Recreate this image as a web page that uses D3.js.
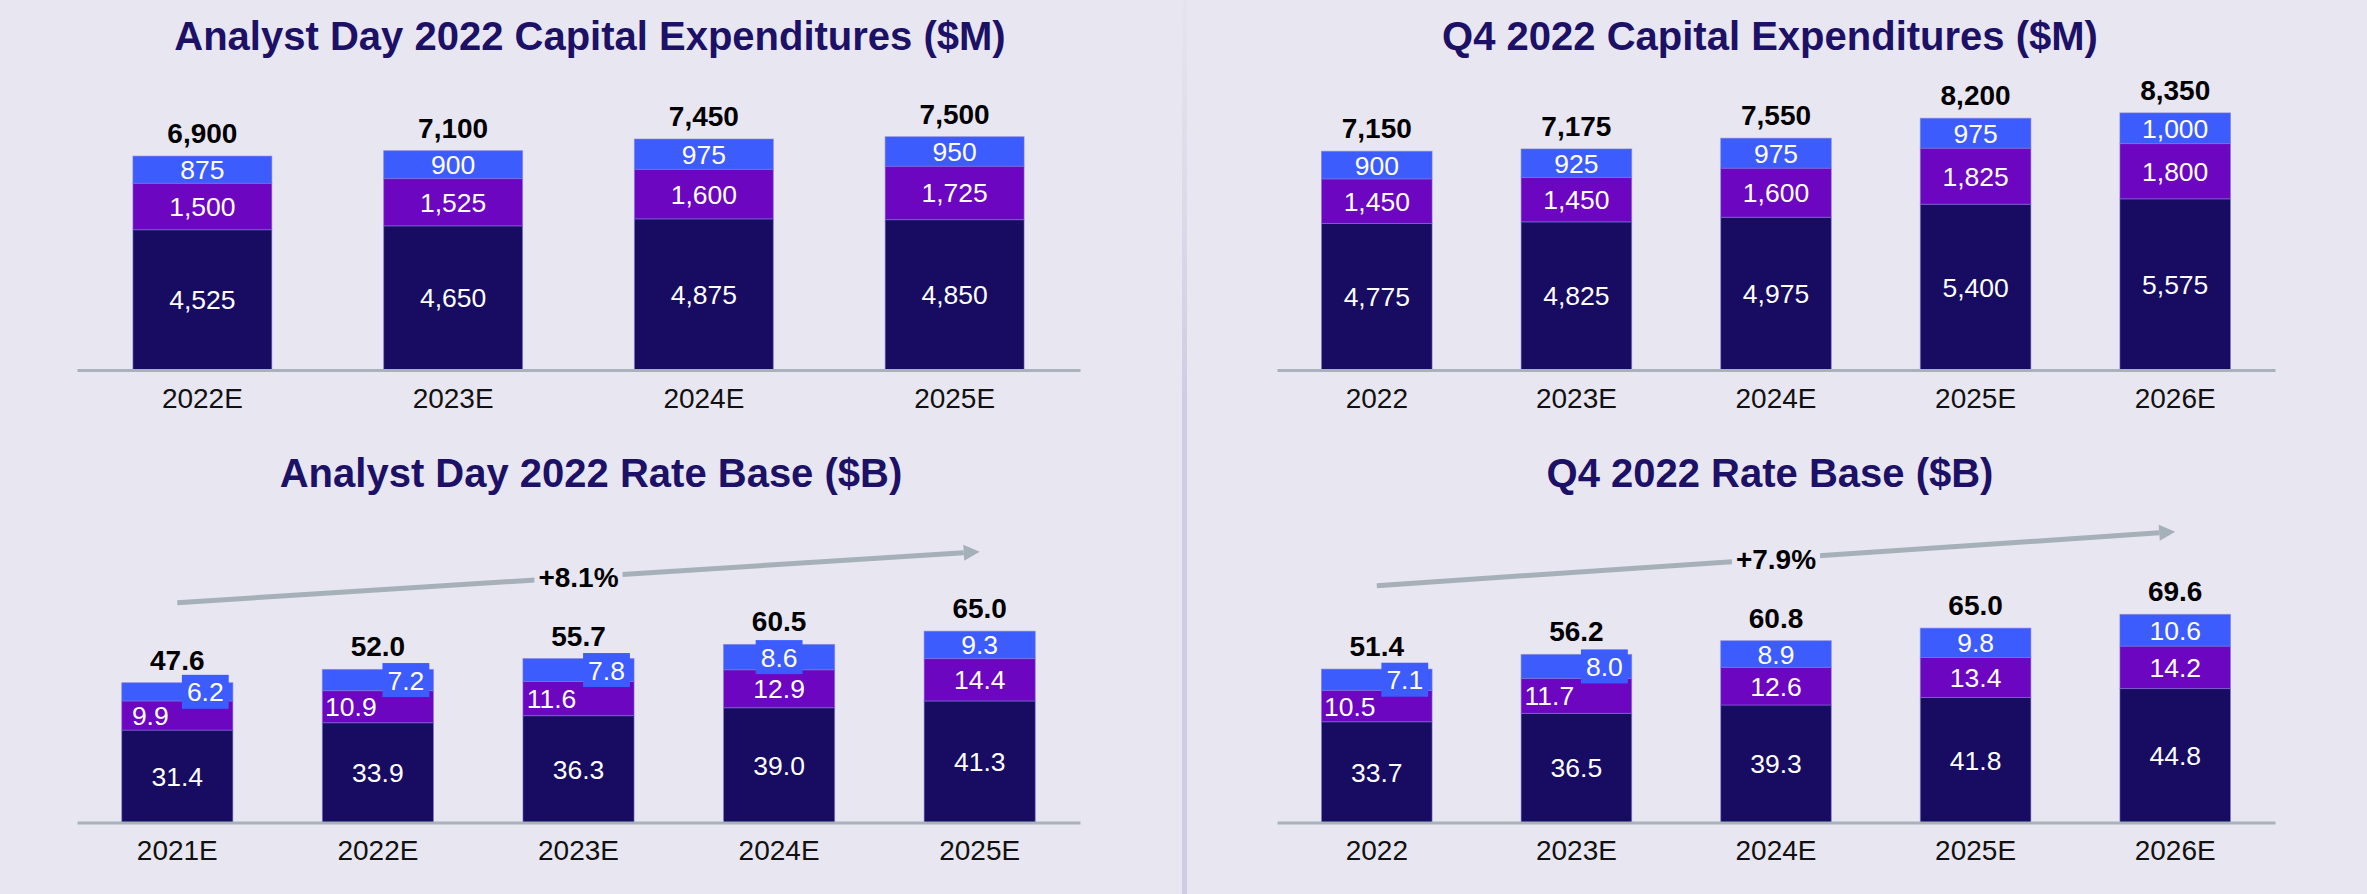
<!DOCTYPE html>
<html><head><meta charset="utf-8">
<script src="https://cdn.jsdelivr.net/npm/d3@7"></script>
<style>
html,body{margin:0;padding:0;background:#e8e6f0;}
svg{display:block;}
text{font-family:"Liberation Sans",Arial,sans-serif;}
</style></head><body>
<svg id="chart" width="2367" height="894"></svg>
<script>
// ---------- DATA ----------
const capexADTitle = "Analyst Day 2022 Capital Expenditures ($M)";
const capexADCats = ["2022E", "2023E", "2024E", "2025E"];
const capexADNavy = [4525, 4650, 4875, 4850];
const capexADPurple = [1500, 1525, 1600, 1725];
const capexADBlue = [875, 900, 975, 950];
const capexADTotal = [6900, 7100, 7450, 7500];

const capexQ4Title = "Q4 2022 Capital Expenditures ($M)";
const capexQ4Cats = ["2022", "2023E", "2024E", "2025E", "2026E"];
const capexQ4Navy = [4775, 4825, 4975, 5400, 5575];
const capexQ4Purple = [1450, 1450, 1600, 1825, 1800];
const capexQ4Blue = [900, 925, 975, 975, 1000];
const capexQ4Total = [7150, 7175, 7550, 8200, 8350];

const rbADTitle = "Analyst Day 2022 Rate Base ($B)";
const rbADCats = ["2021E", "2022E", "2023E", "2024E", "2025E"];
const rbADNavy = [31.4, 33.9, 36.3, 39.0, 41.3];
const rbADPurple = [9.9, 10.9, 11.6, 12.9, 14.4];
const rbADBlue = [6.2, 7.2, 7.8, 8.6, 9.3];
const rbADTotal = [47.6, 52.0, 55.7, 60.5, 65.0];
const rbADCagr = "+8.1%";

const rbQ4Title = "Q4 2022 Rate Base ($B)";
const rbQ4Cats = ["2022", "2023E", "2024E", "2025E", "2026E"];
const rbQ4Navy = [33.7, 36.5, 39.3, 41.8, 44.8];
const rbQ4Purple = [10.5, 11.7, 12.6, 13.4, 14.2];
const rbQ4Blue = [7.1, 8.0, 8.9, 9.8, 10.6];
const rbQ4Total = [51.4, 56.2, 60.8, 65.0, 69.6];
const rbQ4Cagr = "+7.9%";

// ---------- STYLE ----------
const BG = "#e8e6f0";
const COLORS = { navy: "#170c62", purple: "#6c06c0", blue: "#3d5cfe" };
const TITLE_COLOR = "#1c1166";
const AXIS_COLOR = "#a8b2ba";
const ARROW_COLOR = "#a6b0b8";
const FONT = '"Liberation Sans", Arial, sans-serif';

const svg = d3.select("#chart");
svg.append("rect").attr("width", 2367).attr("height", 894).attr("fill", BG);

// separator
const defs = svg.append("defs");
const grad = defs.append("linearGradient").attr("id", "sepGrad")
  .attr("x1", 0).attr("y1", 0).attr("x2", 0).attr("y2", 1);
grad.append("stop").attr("offset", "0%").attr("stop-color", "#d6d3e6").attr("stop-opacity", 0.1);
grad.append("stop").attr("offset", "45%").attr("stop-color", "#d0cce2").attr("stop-opacity", 1);
grad.append("stop").attr("offset", "100%").attr("stop-color", "#d0cce2").attr("stop-opacity", 1);
svg.append("rect").attr("x", 1182).attr("y", 0).attr("width", 5).attr("height", 894)
  .attr("fill", "url(#sepGrad)");

function drawPanel(p) {
  const g = svg.append("g");
  const rows = p.cats.map((c, i) => ({ cat: c, navy: p.navy[i], purple: p.purple[i], blue: p.blue[i], total: p.total[i] }));
  const keys = ["navy", "purple", "blue"];
  const series = d3.stack().keys(keys)(rows);
  const x = d3.scaleBand().domain(p.cats).range([p.x0, p.x1]).paddingInner(0.446).paddingOuter(0.223);
  const y = d3.scaleLinear().domain([0, p.yMax]).range([p.axisY, p.yTop]);
  const fmt = d3.format(p.fmt);

  // title
  g.append("text").attr("x", p.titleX).attr("y", p.titleY)
    .attr("text-anchor", "middle").attr("font-size", 40).attr("font-weight", "bold")
    .attr("fill", TITLE_COLOR).style("font-family", FONT).text(p.title);

  // bars
  series.forEach(s => {
    g.append("g").selectAll("rect").data(s).join("rect")
      .attr("x", d => x(d.data.cat))
      .attr("y", d => y(d[1]))
      .attr("width", x.bandwidth())
      .attr("height", d => y(d[0]) - y(d[1]))
      .attr("fill", COLORS[s.key])
      .attr("stroke", "#7f78d8").attr("stroke-opacity", 0.55).attr("stroke-width", 1);
  });

  // axis
  const axis = g.append("g").attr("transform", `translate(0,${p.axisY})`)
    .call(d3.axisBottom(x).tickSize(0).tickSizeOuter(0).tickPadding(18));
  axis.select(".domain").attr("stroke", AXIS_COLOR).attr("stroke-width", 3);
  axis.selectAll("text").attr("font-size", 28).attr("fill", "#111")
    .style("font-family", FONT);

  // segment labels
  rows.forEach((r, i) => {
    const cx = x(r.cat) + x.bandwidth() / 2;
    const sNavy = series[0][i], sPurple = series[1][i], sBlue = series[2][i];
    const blueH = y(sBlue[0]) - y(sBlue[1]);
    let mode = "normal";
    if (blueH < 24.5) mode = "side";
    else if (blueH < 26) mode = "box";

    const lab = (cxp, d, val) => g.append("text")
      .attr("x", cxp).attr("y", (y(d[0]) + y(d[1])) / 2).attr("dy", "0.36em")
      .attr("text-anchor", "middle").attr("font-size", 26.5).attr("fill", "#fff")
      .style("font-family", FONT).text(fmt(val));

    lab(cx, sNavy, r.navy);
    lab(mode === "side" ? cx - 27 : cx, sPurple, r.purple);
    const bx = mode === "side" ? cx + 28 : cx;
    if (mode !== "normal") {
      const boxG = g.append("g");
      const t = lab(bx, sBlue, r.blue);
      const tw = t.node().getComputedTextLength();
      const cy = (y(sBlue[0]) + y(sBlue[1])) / 2;
      boxG.append("rect").attr("x", bx - tw / 2 - 5).attr("y", cy - 17)
        .attr("width", tw + 10).attr("height", 34).attr("fill", COLORS.blue);
      boxG.node().appendChild(t.node());
    } else {
      lab(cx, sBlue, r.blue);
    }
    // total
    g.append("text").attr("x", cx).attr("y", y(sBlue[1]) - 13)
      .attr("text-anchor", "middle").attr("font-size", 28).attr("font-weight", "bold")
      .attr("fill", "#000").style("font-family", FONT).text(fmt(r.total));
  });

  // CAGR arrow
  if (p.cagr) {
    const xa = x(p.cats[0]) + x.bandwidth() / 2;
    const xb = x(p.cats[p.cats.length - 1]) + x.bandwidth() / 2;
    const ya = p.arrowY[0], yb = p.arrowY[1];
    const len = Math.hypot(xb - xa, yb - ya);
    const ux = (xb - xa) / len, uy = (yb - ya) / len;
    const hl = 16, hw = 8;
    const bxp = xb - ux * hl, byp = yb - uy * hl;
    g.append("line").attr("x1", xa).attr("y1", ya).attr("x2", bxp).attr("y2", byp)
      .attr("stroke", ARROW_COLOR).attr("stroke-width", 5);
    g.append("polygon").attr("points", [
      [xb, yb], [bxp - uy * hw, byp + ux * hw], [bxp + uy * hw, byp - ux * hw]
    ].map(q => q.join(",")).join(" ")).attr("fill", ARROW_COLOR);
    const mx = (xa + xb) / 2, my = (ya + yb) / 2;
    const bg = g.append("rect").attr("fill", BG);
    const t = g.append("text").attr("x", mx).attr("y", my).attr("dy", "0.36em")
      .attr("text-anchor", "middle").attr("font-size", 28).attr("font-weight", "bold")
      .attr("fill", "#000").style("font-family", FONT).text(p.cagr);
    const tw = t.node().getComputedTextLength();
    bg.attr("x", mx - tw / 2 - 4).attr("y", my - 14).attr("width", tw + 8).attr("height", 28);
  }
}

drawPanel({ title: capexADTitle, cats: capexADCats, navy: capexADNavy, purple: capexADPurple, blue: capexADBlue, total: capexADTotal,
  fmt: ",", x0: 77, x1: 1080, axisY: 370, yMax: 8000, yTop: 370 - 8000 * 0.0310, titleX: 590, titleY: 50 });
drawPanel({ title: capexQ4Title, cats: capexQ4Cats, navy: capexQ4Navy, purple: capexQ4Purple, blue: capexQ4Blue, total: capexQ4Total,
  fmt: ",", x0: 1277, x1: 2275, axisY: 370, yMax: 9000, yTop: 370 - 9000 * 0.0307, titleX: 1770, titleY: 50 });
drawPanel({ title: rbADTitle, cats: rbADCats, navy: rbADNavy, purple: rbADPurple, blue: rbADBlue, total: rbADTotal,
  fmt: ".1f", x0: 77, x1: 1080, axisY: 822.5, yMax: 70, yTop: 822.5 - 70 * 2.943, titleX: 591, titleY: 487,
  cagr: rbADCagr, arrowY: [602.7, 551.7] });
drawPanel({ title: rbQ4Title, cats: rbQ4Cats, navy: rbQ4Navy, purple: rbQ4Purple, blue: rbQ4Blue, total: rbQ4Total,
  fmt: ".1f", x0: 1277, x1: 2275, axisY: 822.5, yMax: 70, yTop: 822.5 - 70 * 2.99, titleX: 1770, titleY: 487,
  cagr: rbQ4Cagr, arrowY: [585.7, 531.7] });
</script>
</body></html>
